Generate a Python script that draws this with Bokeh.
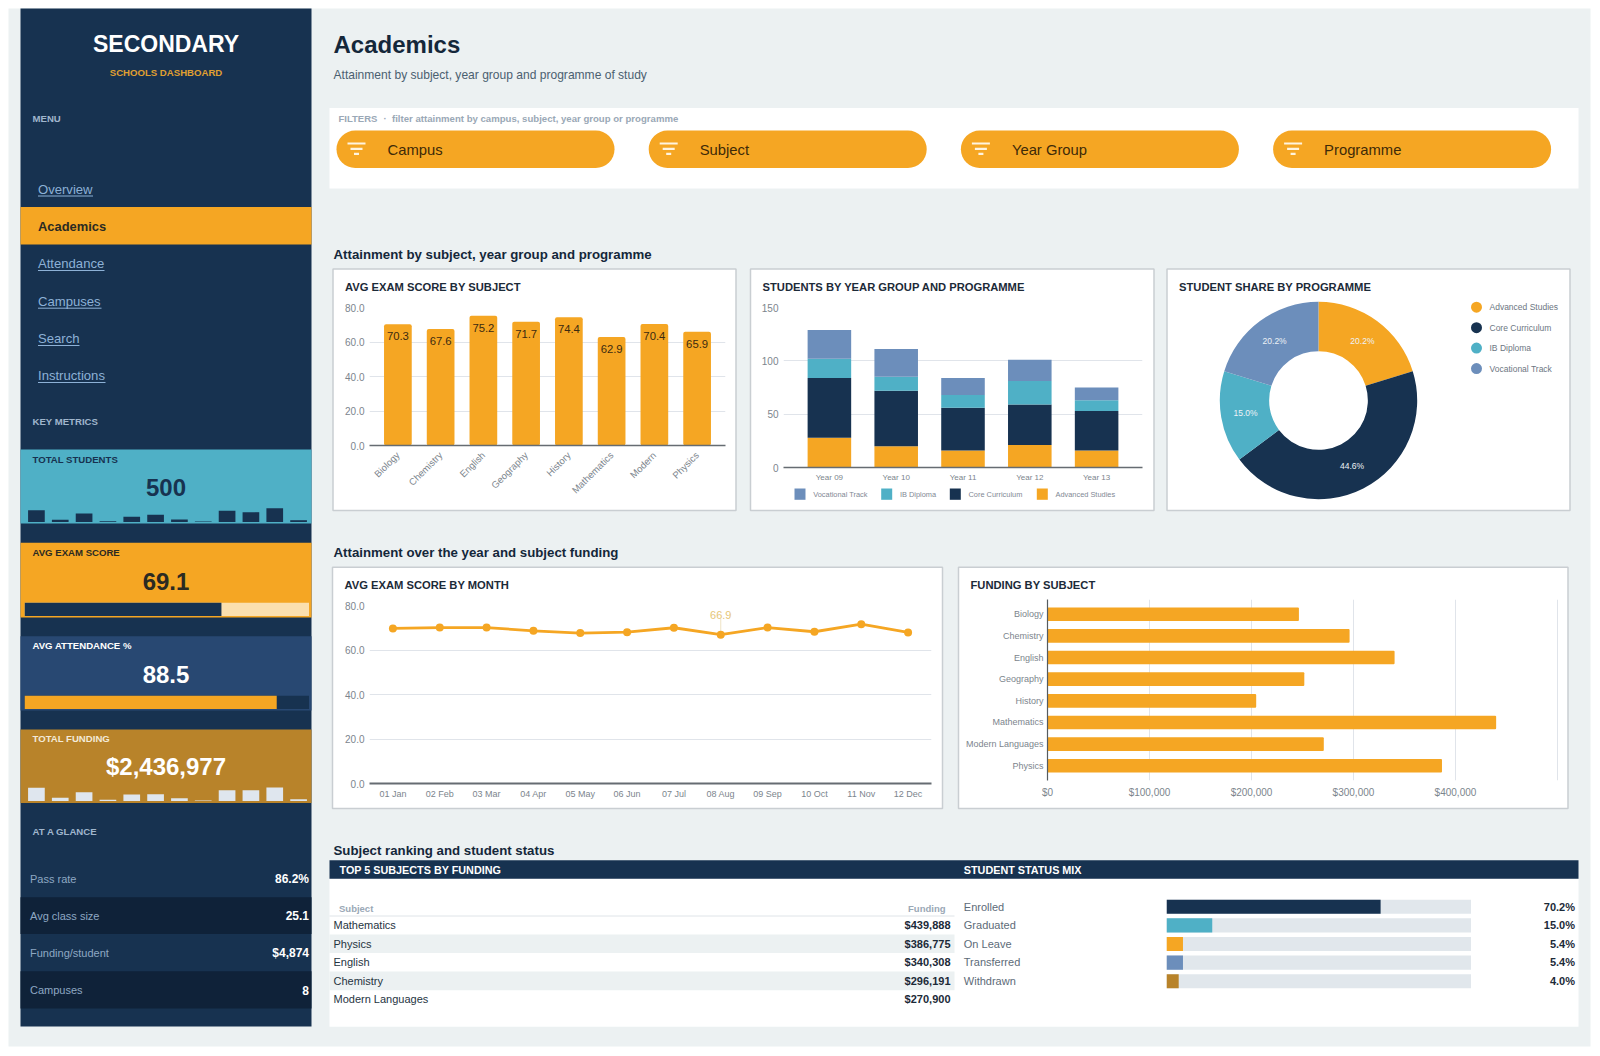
import math
from bokeh.core.properties import value
from bokeh.embed import file_html
from bokeh.layouts import column
from bokeh.models import FactorRange, FixedTicker, NumeralTickFormatter, Range1d
from bokeh.plotting import figure
from bokeh.resources import INLINE

# ---- data ----
subjects_short = ["Biology", "Chemistry", "English", "Geography", "History", "Mathematics", "Modern", "Physics"]
subjects = ["Biology", "Chemistry", "English", "Geography", "History", "Mathematics", "Modern Languages", "Physics"]
avg_score = [70.3, 67.6, 75.2, 71.7, 74.4, 62.9, 70.4, 65.9]
funding = [246500, 296191, 340308, 251800, 204615, 439888, 270900, 386775]

years = ["Year 09", "Year 10", "Year 11", "Year 12", "Year 13"]
programmes = ["Advanced Studies", "Core Curriculum", "IB Diploma", "Vocational Track"]
advanced = [28, 20, 16, 21, 16]
core = [56, 52, 40, 38, 37]
ib = [18, 13, 12, 22, 10]
vocational = [27, 26, 16, 20, 12]
programme_share = [20.2, 44.6, 15.0, 20.2]

months = ["01 Jan", "02 Feb", "03 Mar", "04 Apr", "05 May", "06 Jun", "07 Jul", "08 Aug", "09 Sep", "10 Oct", "11 Nov", "12 Dec"]
monthly_score = [69.7, 70.1, 70.1, 68.6, 67.6, 68.0, 70.0, 66.9, 70.1, 68.2, 71.6, 67.9]

spark_students = [12.3, 2.7, 9.0, 1.3, 5.7, 7.7, 3.0, 1.0, 11.7, 10.3, 14.3, 2.3]
spark_funding = [13.7, 3.7, 9.3, 1.7, 7.0, 7.3, 3.3, 1.0, 11.3, 11.3, 14.0, 2.3]
exam_progress = 69.1
attendance_progress = 88.5

nav_items = ["Overview", "Academics", "Attendance", "Campuses", "Search", "Instructions"]
glance_labels = ["Pass rate", "Avg class size", "Funding/student", "Campuses"]
glance_values = ["86.2%", "25.1", "$4,874", "8"]
filters = ["Campus", "Subject", "Year Group", "Programme"]

top_subjects = ["Mathematics", "Physics", "English", "Chemistry", "Modern Languages"]
top_funding = [439888, 386775, 340308, 296191, 270900]
statuses = ["Enrolled", "Graduated", "On Leave", "Transferred", "Withdrawn"]
status_share = [70.2, 15.0, 5.4, 5.4, 4.0]

score_ticks = [0, 20, 40, 60, 80]
student_ticks = [0, 50, 100, 150]
funding_ticks = [0, 100000, 200000, 300000, 400000]
funding_grid = [0, 100000, 200000, 300000, 400000, 500000]

# ---- style ----
NAVY = "#173250"
ORANGE = "#f5a623"
TEAL = "#4fb0c6"
BLUE = "#6c8ebb"
BROWN = "#b8832a"
MIDBLUE = "#284872"
DARKROW = "#0f2239"
PAGE = "#ecf1f2"
FONT = "Liberation Sans"
TICK = "#7c858d"
GRID = "#e0e4ea"
INK = "#16283a"
MUTED = "#a0b6cd"
LINK = "#8db1d6"
INSET = 96
ROOT_SHIFT = 100


def fig(fl, ft, fw, fh, x_range, y_range, top=0, bottom=0, right=0, **kw):
    # fl, ft: page position of the plot frame; fw, fh: frame size
    f = figure(frame_width=fw, frame_height=fh, x_range=x_range, y_range=y_range,
               output_backend="svg", toolbar_location=None, background_fill_color=None, border_fill_color=None,
               outline_line_color=None, min_border_left=INSET, min_border_right=right, min_border_top=top,
               min_border_bottom=bottom,
               styles={"position": "absolute", "left": f"{fl - INSET + ROOT_SHIFT}px", "top": f"{ft - top}px"}, **kw)
    return f


def bare(fl, ft, fw, fh, x_range, y_range):
    f = fig(fl, ft, fw, fh, x_range, y_range, x_axis_type=None, y_axis_type=None)
    f.grid.visible = False
    return f


def style_axes(f, x_standoff=5, y_standoff=5):
    for ax in f.xaxis + f.yaxis:
        ax.major_tick_line_color = None
        ax.minor_tick_line_color = None
        ax.major_tick_in = 0
        ax.major_tick_out = 0
        ax.minor_tick_in = 0
        ax.minor_tick_out = 0
        ax.major_label_text_font = FONT
        ax.major_label_text_color = TICK
    f.xaxis.major_label_standoff = x_standoff
    f.yaxis.major_label_standoff = y_standoff
    return f


# ---- background canvas: reference pixel coordinates ----
bg = bare(8, 8, 1584, 1040, Range1d(8, 1592), Range1d(1048, 8))


def box(x0, y0, x1, y1, color, **kw):
    bg.quad(left=[x0], right=[x1], top=[y0], bottom=[y1], fill_color=color, line_color=kw.pop("line", None), **kw)


def T(x, y, s, size, color=INK, bold=False, align="left"):
    bg.text(x=[x], y=[y], text=[s], text_font=value(FONT), text_font_size=f"{size}px", text_color=color,
            text_font_style="bold" if bold else "normal", text_align=align, text_baseline="middle")


box(9, 9, 1591, 1047, PAGE)
box(21, 9, 312, 1027, NAVY)

# sidebar head
T(166.5, 44.5, "SECONDARY", 23, "#ffffff", True, "center")
T(166.5, 73, "SCHOOLS DASHBOARD", 9.6, "#e0a030", True, "center")
T(33, 118.5, "MENU", 9.6, MUTED, True)

nav_y = [189.5, 226.7, 264, 301.7, 339, 376]
nav_w = [55, 0, 66.5, 63.5, 41.5, 67.5]
box(21, 207.5, 312, 245, ORANGE)
for name, y, w in zip(nav_items, nav_y, nav_w):
    if name == "Academics":
        T(38.5, y, name, 12.9, "#2b2a22", True)
    else:
        T(38.5, y, name, 13.1, LINK)
        bg.segment(x0=[38.5], x1=[38.5 + w], y0=[y + 7], y1=[y + 7], line_color=LINK, line_width=1)

T(33, 422, "KEY METRICS", 9.6, MUTED, True)

# metric cards
box(21, 450, 312, 524, TEAL)
T(33, 459.5, "TOTAL STUDENTS", 9.6, NAVY, True)
T(166.5, 488, "500", 24, NAVY, True, "center")

box(21, 543.3, 312, 618, ORANGE)
T(33, 553, "AVG EXAM SCORE", 9.6, "#2b2a22", True)
T(166.5, 581.5, f"{exam_progress}", 24, "#2b2a22", True, "center")

box(21, 636.7, 312, 711, MIDBLUE)
T(33, 646, "AVG ATTENDANCE %", 9.6, "#ffffff", True)
T(166.5, 674.5, f"{attendance_progress}", 24, "#ffffff", True, "center")

box(21, 730, 312, 803.5, BROWN)
T(33, 739, "TOTAL FUNDING", 9.6, "#f3ead8", True)
T(166.5, 767, "$2,436,977", 24, "#ffffff", True, "center")

# at a glance
T(33, 831.5, "AT A GLANCE", 9.6, MUTED, True)
glance_y = [879.3, 916, 953.3, 990.5]
box(21, 897.7, 312, 934.5, DARKROW)
box(21, 971.7, 312, 1009, DARKROW)
for lab, val, y in zip(glance_labels, glance_values, glance_y):
    T(30.5, y, lab, 11, "#8ea8c3")
    T(309.5, y, val, 12, "#ffffff", True, "right")

# heading
T(334, 44.5, "Academics", 24, "#14273a", True)
T(334, 75, "Attainment by subject, year group and programme of study", 12.05, "#4b6070")

# filters
box(330, 108.5, 1579, 189, "#ffffff")
T(339, 119, "FILTERS", 9.5, "#9aa8b6", True)
T(384, 119, "\u00b7", 9.5, "#9aa8b6", True)
T(392.5, 119, "filter attainment by campus, subject, year group or programme", 9.6, "#9aa8b6", True)
for i, name in enumerate(filters):
    px = 337 + i * 312.2
    bg.quad(left=[px], right=[px + 278], top=[131], bottom=[168.5], fill_color=ORANGE, line_color=None, border_radius=19)
    cx = px + 20
    for dy, half in zip((144, 149.3, 154.3), (9, 6, 2.5)):
        bg.segment(x0=[cx - half], x1=[cx + half], y0=[dy], y1=[dy], line_color="#fff4df", line_width=2.2)
    T(px + 51, 150, name, 14.8, "#3e2a08")

# section titles
T(334, 255, "Attainment by subject, year group and programme", 13.25, "#14273a", True)
T(334, 552.7, "Attainment over the year and subject funding", 13.25, "#14273a", True)
T(334, 851, "Subject ranking and student status", 13.25, "#14273a", True)

# cards
for (x0, y0, x1, y1, title) in [
    (333.5, 269.5, 736.5, 511, "AVG EXAM SCORE BY SUBJECT"),
    (751, 269.5, 1154.5, 511, "STUDENTS BY YEAR GROUP AND PROGRAMME"),
    (1167.5, 269.5, 1570.5, 511, "STUDENT SHARE BY PROGRAMME"),
    (333, 567.7, 943, 809, "AVG EXAM SCORE BY MONTH"),
    (959, 567.7, 1568.5, 809, "FUNDING BY SUBJECT"),
]:
    box(x0, y0, x1, y1, "#ffffff", line="#c9ced2", line_width=1.5)
    T(x0 + 12, y0 + 17.5, title, 11.2, "#1c2a38", True)

# stacked legend (top-down order of the reference)
for swatch, label, col in zip([795, 881.7, 950.3, 1037.3], ["Vocational Track", "IB Diploma", "Core Curriculum", "Advanced Studies"],
                              [BLUE, TEAL, NAVY, ORANGE]):
    box(swatch, 489, swatch + 11, 500.3, col)
    T(swatch + 18.7, 494.7, label, 7.4, "#7f8894")

# donut legend
for i, (label, col) in enumerate(zip(programmes, [ORANGE, NAVY, TEAL, BLUE])):
    y = 307.7 + i * 20.45
    bg.scatter(x=[1477], y=[y], marker="circle", size=11, fill_color=col, line_color=None)
    T(1490, y, label, 8.5, "#6c7682")

# table panels
box(330, 879.3, 1579, 1027.3, "#ffffff")
box(330, 860.7, 1579, 879.3, NAVY)
T(340, 870, "TOP 5 SUBJECTS BY FUNDING", 10.8, "#ffffff", True)
T(964.3, 870, "STUDENT STATUS MIX", 10.8, "#ffffff", True)
T(339.5, 909, "Subject", 9.5, "#9aa8b6", True)
T(946, 909, "Funding", 9.5, "#9aa8b6", True, "right")
bg.segment(x0=[330], x1=[955], y0=[916.5], y1=[916.5], line_color="#dfe4e8", line_width=1)
row_h = 18.55
for i, (s, v) in enumerate(zip(top_subjects, top_funding)):
    y = 925.7 + i * row_h
    if i % 2:
        box(330, y - row_h / 2, 955, y + row_h / 2, PAGE)
    T(334, y, s, 11, "#26343f")
    T(951, y, f"${v:,}", 11, "#1c2a38", True, "right")
for i, (s, v) in enumerate(zip(statuses, status_share)):
    y = 907.2 + i * row_h
    T(964.3, y, s, 11, "#5d6b78")
    T(1575.5, y, f"{v}%", 11, "#1c2a38", True, "right")

figs = [bg]

# ---- sidebar sparks and progress bars ----
for vals, top, col in [(spark_students, 504.7, NAVY), (spark_funding, 784, "#dfe6ee")]:
    f = bare(24.5, top, 286, 18, FactorRange(factors=months), Range1d(0, 18))
    f.vbar(x=months, top=vals, width=0.7, fill_color=col, line_color=None)
    figs.append(f)

for val, y, track, fill in [(exam_progress, 602.5, "#fbdfae", NAVY), (attendance_progress, 695.5, NAVY, ORANGE)]:
    f = bare(24.5, y, 285, 14, Range1d(0, 100), FactorRange(factors=["p"]))
    f.hbar(y=["p"], left=0, right=[100], height=1, fill_color=track, line_color=None)
    f.hbar(y=["p"], left=0, right=[val], height=1, fill_color=fill, line_color=None)
    figs.append(f)

# ---- chart 1: avg score by subject ----
xr = FactorRange(factors=subjects_short, range_padding=0.164, range_padding_units="absolute")
c1 = fig(369.5, 308.3, 356, 138, xr, Range1d(0, 80), top=10, bottom=64, right=12)
c1.vbar(x=subjects_short, top=avg_score, width=0.648, fill_color=ORANGE, line_color=None, border_radius=2)
c1.text(x=subjects_short, y=avg_score, text=[f"{v}" for v in avg_score], text_font=value(FONT), text_font_size="11.3px",
        text_color="#3c2a10", text_align="center", text_baseline="top", y_offset=8)
style_axes(c1, x_standoff=8)
c1.xgrid.visible = False
c1.ygrid.grid_line_color = GRID
c1.ygrid.ticker = FixedTicker(ticks=score_ticks)
c1.yaxis.ticker = FixedTicker(ticks=score_ticks)
c1.yaxis.formatter = NumeralTickFormatter(format="0.0")
c1.yaxis.axis_line_color = None
c1.yaxis.major_label_text_font_size = "10px"
c1.xaxis.axis_line_color = "#666c72"
c1.xaxis.axis_line_width = 1.5
c1.xaxis.major_label_orientation = math.pi / 4
c1.xaxis.major_label_text_font_size = "9.5px"
figs.append(c1)

# ---- chart 2: stacked students ----
xr = FactorRange(factors=years, range_padding=0.187, range_padding_units="absolute")
c2 = fig(784.3, 308.3, 359, 160, xr, Range1d(0, 150), top=10, bottom=24, right=12)
c2.vbar_stack(["a", "c", "i", "v"], x="year", width=0.652, color=[ORANGE, NAVY, TEAL, BLUE], line_color=None,
              source=dict(year=years, a=advanced, c=core, i=ib, v=vocational))
style_axes(c2)
c2.xgrid.visible = False
c2.ygrid.grid_line_color = GRID
c2.ygrid.ticker = FixedTicker(ticks=student_ticks)
c2.yaxis.ticker = FixedTicker(ticks=student_ticks)
c2.yaxis.axis_line_color = None
c2.yaxis.major_label_text_font_size = "10px"
c2.xaxis.axis_line_color = "#666c72"
c2.xaxis.axis_line_width = 1.5
c2.xaxis.major_label_text_font_size = "8px"
figs.append(c2)

# ---- chart 3: donut ----
lim = 103 / 98.7
c3 = bare(1215.7, 298, 206, 206, Range1d(-lim, lim), Range1d(-lim, lim))
total = sum(programme_share)
cum = 0.0
for share, col in zip(programme_share, [ORANGE, NAVY, TEAL, BLUE]):
    a0 = math.pi / 2 - 2 * math.pi * cum / total
    a1 = math.pi / 2 - 2 * math.pi * (cum + share) / total
    c3.annular_wedge(x=[0], y=[0], inner_radius=[0.5], outer_radius=[1], start_angle=[a0], end_angle=[a1],
                     direction="clock", fill_color=col, line_color=None)
    mid = (a0 + a1) / 2
    c3.text(x=[0.75 * math.cos(mid)], y=[0.75 * math.sin(mid)], text=[f"{share}%"], text_font=value(FONT),
            text_font_size="8.5px", text_color="#eef2f6", text_align="center", text_baseline="middle")
    cum += share
figs.append(c3)

# ---- chart 4: monthly line ----
xr = FactorRange(factors=months, range_padding=0)
c4 = fig(369.8, 606.3, 562, 178, xr, Range1d(0, 80), top=10, bottom=24, right=12)
style_axes(c4)
low_i = monthly_score.index(min(monthly_score))
c4.segment(x0=[months[low_i]], x1=[months[low_i]], y0=[monthly_score[low_i]], y1=[monthly_score[low_i] + 7],
           line_color="#efe3c4", line_width=1)
c4.line(x=months, y=monthly_score, line_color=ORANGE, line_width=2.8)
c4.scatter(x=months, y=monthly_score, marker="circle", size=8, fill_color=ORANGE, line_color=None)
c4.text(x=[months[low_i]], y=[monthly_score[low_i]], text=[f"{monthly_score[low_i]}"], text_font=value(FONT),
        text_font_size="11px", text_color="#e6c677", text_align="center", text_baseline="middle", y_offset=-20)
c4.xgrid.visible = False
c4.ygrid.grid_line_color = GRID
c4.ygrid.ticker = FixedTicker(ticks=score_ticks)
c4.yaxis.ticker = FixedTicker(ticks=score_ticks)
c4.yaxis.formatter = NumeralTickFormatter(format="0.0")
c4.yaxis.axis_line_color = None
c4.yaxis.major_label_text_font_size = "10px"
c4.xaxis.axis_line_color = "#666c72"
c4.xaxis.axis_line_width = 2
c4.xaxis.major_label_text_font_size = "9px"
figs.append(c4)

# ---- chart 5: funding bars ----
yr = FactorRange(factors=subjects[::-1], range_padding=0.18, range_padding_units="absolute")
c5 = fig(1048, 600, 512, 181, Range1d(0, 502000), yr, top=0, bottom=27, right=12)
c5.hbar(y=subjects, left=0, right=funding, height=0.63, fill_color=ORANGE, line_color=None, border_radius=1)
style_axes(c5, x_standoff=6, y_standoff=4)
c5.ygrid.visible = False
c5.xgrid.grid_line_color = GRID
c5.xgrid.ticker = FixedTicker(ticks=funding_grid)
c5.xaxis.ticker = FixedTicker(ticks=funding_ticks)
c5.xaxis.formatter = NumeralTickFormatter(format="$0,0")
c5.xaxis.axis_line_color = None
c5.xaxis.major_label_text_font_size = "10px"
c5.yaxis.axis_line_color = "#555b60"
c5.yaxis.axis_line_width = 1.2
c5.yaxis.major_label_text_font_size = "9px"
figs.append(c5)

# ---- status mix bars ----
sr = FactorRange(factors=statuses[::-1], range_padding=0)
c6 = bare(1166.5, 898, 305, 93, Range1d(0, 100), sr)
c6.hbar(y=statuses, left=0, right=[100] * 5, height=0.76, fill_color="#e1e7ec", line_color=None)
c6.hbar(y=statuses, left=0, right=status_share, height=0.76, color=[NAVY, TEAL, ORANGE, BLUE, BROWN], line_color=None)
figs.append(c6)

root = column(*figs, width=1584, height=1040,
              styles={"position": "absolute", "left": f"-{ROOT_SHIFT + 1}px", "top": "-1px", "overflow": "hidden",
                      "width": f"{1601 + ROOT_SHIFT}px", "height": "1057px"})
open("out.html", "w").write(file_html(root, INLINE))
